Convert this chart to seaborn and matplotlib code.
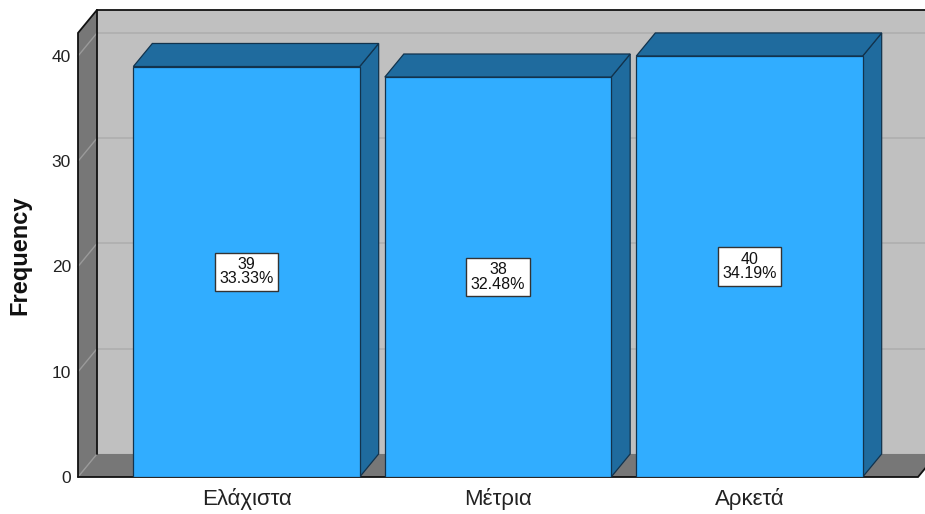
import matplotlib
matplotlib.use("Agg")
import matplotlib.pyplot as plt
from matplotlib.patches import Polygon
import seaborn as sns

categories = ["Ελάχιστα", "Μέτρια", "Αρκετά"]
frequency = [39, 38, 40]
percent = ["33.33%", "32.48%", "34.19%"]
y_ticks = [0, 10, 20, 30, 40]

FRONT = "#31ADFF"
SIDE = "#1F6B9E"
EDGE = "#12334D"
WALL_BACK = "#C0C0C0"
WALL_DARK = "#777777"
GRID_BACK = "#AEAEAE"
GRID_SIDE = "#9A9A9A"

sns.set_theme(style="white")
plt.rcParams["font.family"] = ["Liberation Sans", "DejaVu Sans"]

W, H = 925, 514
fig = plt.figure(figsize=(W / 100, H / 100), dpi=100)
ax = fig.add_axes([78 / W, 37 / H, (W - 78) / W, (477 - 8) / H])

sns.barplot(x=categories, y=frequency, ax=ax, width=0.9, color=FRONT,
            saturation=1, edgecolor=EDGE, linewidth=0.9, zorder=3)

x0, x1 = -0.67, 2.67
y_top = 40.0
dx, dy = 0.0755, 2.19
ax.set_xlim(x0, x0 + (W - 78) / 251.5)
ax.set_ylim(0, (477 - 8) / 10.525)

def poly(pts, fc, ec="none", lw=0, z=1):
    ax.add_patch(Polygon(pts, closed=True, facecolor=fc, edgecolor=ec,
                         linewidth=lw, zorder=z, clip_on=False))

# back wall, floor and left wall
poly([(x0 + dx, dy), (x1 + 2 * dx, dy), (x1 + 2 * dx, y_top + 2 * dy),
      (x0 + dx, y_top + 2 * dy)], WALL_BACK, z=0.2)
for t in y_ticks[1:]:
    ax.plot([x0 + dx, x1 + 2 * dx], [t + dy, t + dy], color=GRID_BACK,
            lw=1.2, zorder=0.3, clip_on=False)
poly([(x0, 0), (x1, 0), (x1 + dx, dy), (x0 + dx, dy)], WALL_DARK, z=0.5)
poly([(x0, 0), (x0 + dx, dy), (x0 + dx, y_top + 2 * dy), (x0, y_top + dy)],
     WALL_DARK, z=0.6)
for t in y_ticks:
    ax.plot([x0, x0 + dx], [t, t + dy], color=GRID_SIDE, lw=1.0,
            zorder=0.7, clip_on=False)

# wall outlines
k = dict(color="#111111", lw=1.3, zorder=0.8, clip_on=False,
         solid_joinstyle="miter")
ax.plot([x0 + dx, x1 + 2 * dx], [y_top + 2 * dy] * 2, **k)
ax.plot([x0 + dx, x0 + dx], [dy, y_top + 2 * dy], **k)
ax.plot([x0, x0, x0 + dx], [0, y_top + dy, y_top + 2 * dy], **k)
ax.plot([x0, x1, x1 + dx], [0, 0, dy], **k)

# 3D faces of the bars, built from the bar patches
for p, v, pc in zip(ax.patches, frequency, percent):
    bx0 = p.get_x()
    bx1 = bx0 + p.get_width()
    h = p.get_height()
    poly([(bx1, 0), (bx1 + dx, dy), (bx1 + dx, h + dy), (bx1, h)],
         SIDE, ec=EDGE, lw=0.9, z=2)
    poly([(bx0, h), (bx1, h), (bx1 + dx, h + dy), (bx0 + dx, h + dy)],
         SIDE, ec=EDGE, lw=0.9, z=2)
    ax.text(bx0 + p.get_width() / 2, h / 2, f"{v}\n{pc}", ha="center",
            va="center", fontsize=11.5, linespacing=0.95, zorder=5,
            color="#111111",
            bbox=dict(boxstyle="square,pad=0.28", fc="white", ec="#333333",
                      lw=1.0))

for s in ax.spines.values():
    s.set_visible(False)
ax.set_yticks(y_ticks)
ax.set_yticklabels([str(t) for t in y_ticks], fontsize=12.5, color="#222222")
ax.tick_params(axis="y", length=0, pad=5)
ax.tick_params(axis="x", length=0, pad=8, labelsize=16, labelcolor="#222222")
ax.set_xlabel("")
ax.set_ylabel("Frequency", fontsize=17, fontweight="bold", color="#111111",
              va="center")
ax.yaxis.set_label_coords(-0.0685, 0.473)
ax.grid(False)
ax.set_facecolor("none")

fig.savefig("out.png", dpi=100, facecolor="white")
